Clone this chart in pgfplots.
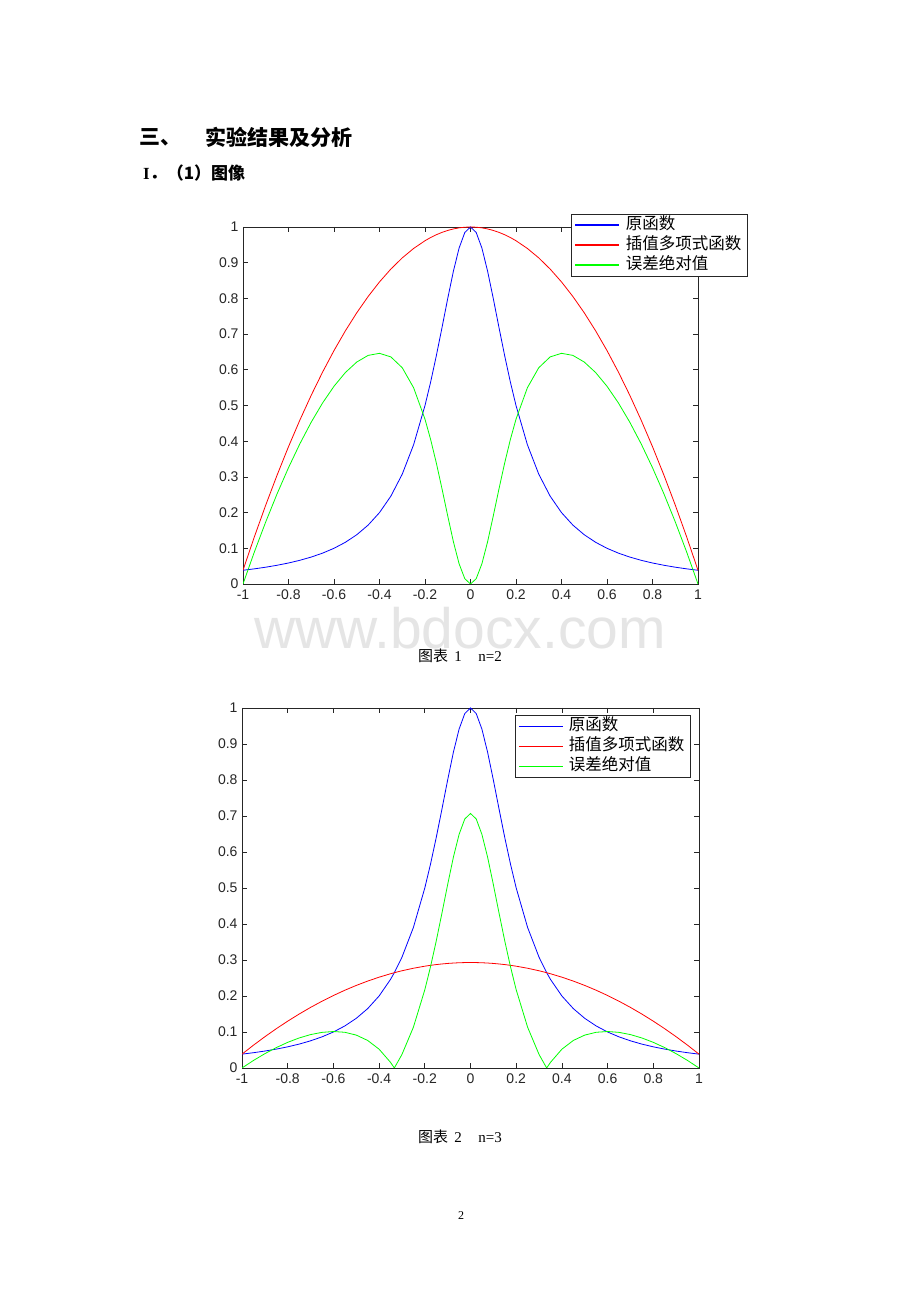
\documentclass[border=0pt]{standalone}
\usepackage{fontspec}
\setmainfont{Liberation Serif}
\newfontfamily\cjk{Noto Sans CJK SC}
\newfontfamily\arial{Liberation Sans}
\usepackage{pgfplots}
\usepackage{pgfplotstable}
\pgfplotsset{compat=1.18}

\pgfplotstableread{
x f p e
-1 0.03846 0.03846 0
-0.95 0.04244 0.13221 0.08977
-0.9 0.04706 0.22115 0.17409
-0.85 0.05246 0.30529 0.25283
-0.8 0.05882 0.38462 0.32580
-0.75 0.06639 0.45913 0.39274
-0.7 0.07547 0.52885 0.45338
-0.65 0.08649 0.59375 0.50726
-0.6 0.10000 0.65385 0.55385
-0.55 0.11679 0.70913 0.59234
-0.5 0.13793 0.75962 0.62169
-0.45 0.16495 0.80529 0.64034
-0.4 0.20000 0.84615 0.64615
-0.35 0.24615 0.88221 0.63606
-0.3 0.30769 0.91346 0.60577
-0.25 0.39024 0.93990 0.54966
-0.2 0.50000 0.96154 0.46154
-0.175 0.56637 0.97055 0.40418
-0.15 0.64000 0.97837 0.33837
-0.125 0.71910 0.98498 0.26588
-0.1 0.80000 0.99038 0.19038
-0.075 0.87671 0.99459 0.11788
-0.05 0.94118 0.99760 0.05642
-0.025 0.98462 0.99940 0.01478
0 1 1 0
0.025 0.98462 0.99940 0.01478
0.05 0.94118 0.99760 0.05642
0.075 0.87671 0.99459 0.11788
0.1 0.80000 0.99038 0.19038
0.125 0.71910 0.98498 0.26588
0.15 0.64000 0.97837 0.33837
0.175 0.56637 0.97055 0.40418
0.2 0.50000 0.96154 0.46154
0.25 0.39024 0.93990 0.54966
0.3 0.30769 0.91346 0.60577
0.35 0.24615 0.88221 0.63606
0.4 0.20000 0.84615 0.64615
0.45 0.16495 0.80529 0.64034
0.5 0.13793 0.75962 0.62169
0.55 0.11679 0.70913 0.59234
0.6 0.10000 0.65385 0.55385
0.65 0.08649 0.59375 0.50726
0.7 0.07547 0.52885 0.45338
0.75 0.06639 0.45913 0.39274
0.8 0.05882 0.38462 0.32580
0.85 0.05246 0.30529 0.25283
0.9 0.04706 0.22115 0.17409
0.95 0.04244 0.13221 0.08977
1 0.03846 0.03846 0
}\tabA

\pgfplotstableread{
x f p e
-1 0.03846 0.03846 0
-0.95 0.04244 0.06328 0.02084
-0.9 0.04706 0.08682 0.03976
-0.85 0.05246 0.10909 0.05663
-0.8 0.05882 0.13009 0.07127
-0.75 0.06639 0.14982 0.08343
-0.7 0.07547 0.16827 0.09280
-0.65 0.08649 0.18545 0.09896
-0.6 0.10000 0.20136 0.10136
-0.55 0.11679 0.21599 0.09920
-0.5 0.13793 0.22935 0.09142
-0.45 0.16495 0.24144 0.07649
-0.4 0.20000 0.25226 0.05226
-0.35 0.24615 0.26181 0.01566
-0.33333 0.26471 0.26471 0
-0.3 0.30769 0.27008 0.03761
-0.25 0.39024 0.27708 0.11316
-0.2 0.50000 0.28280 0.21720
-0.175 0.56637 0.28519 0.28118
-0.15 0.64000 0.28726 0.35274
-0.125 0.71910 0.28901 0.43009
-0.1 0.80000 0.29044 0.50956
-0.075 0.87671 0.29155 0.58516
-0.05 0.94118 0.29235 0.64883
-0.025 0.98462 0.29283 0.69179
0 1 0.29299 0.70701
0.025 0.98462 0.29283 0.69179
0.05 0.94118 0.29235 0.64883
0.075 0.87671 0.29155 0.58516
0.1 0.80000 0.29044 0.50956
0.125 0.71910 0.28901 0.43009
0.15 0.64000 0.28726 0.35274
0.175 0.56637 0.28519 0.28118
0.2 0.50000 0.28280 0.21720
0.25 0.39024 0.27708 0.11316
0.3 0.30769 0.27008 0.03761
0.33333 0.26471 0.26471 0
0.35 0.24615 0.26181 0.01566
0.4 0.20000 0.25226 0.05226
0.45 0.16495 0.24144 0.07649
0.5 0.13793 0.22935 0.09142
0.55 0.11679 0.21599 0.09920
0.6 0.10000 0.20136 0.10136
0.65 0.08649 0.18545 0.09896
0.7 0.07547 0.16827 0.09280
0.75 0.06639 0.14982 0.08343
0.8 0.05882 0.13009 0.07127
0.85 0.05246 0.10909 0.05663
0.9 0.04706 0.08682 0.03976
0.95 0.04244 0.06328 0.02084
1 0.03846 0.03846 0
}\tabB

\pgfplotsset{
  mat/.style={
    scale only axis, anchor=south west,
    xmin=-1, xmax=1, ymin=0, ymax=1,
    axis line style={black!85, line width=0.7pt},
    tick style={black!85, line width=0.7pt},
    tick align=inside, major tick length=5pt,
    xtick pos=both, ytick pos=both,
    xtick={-1,-0.8,-0.6,-0.4,-0.2,0,0.2,0.4,0.6,0.8,1},
    xticklabels={-1,-0.8,-0.6,-0.4,-0.2,0,0.2,0.4,0.6,0.8,1},
    ytick={0,0.1,0.2,0.3,0.4,0.5,0.6,0.7,0.8,0.9,1},
    yticklabels={0,0.1,0.2,0.3,0.4,0.5,0.6,0.7,0.8,0.9,1},
    tick label style={font=\arial\fontsize{14}{14}\selectfont, text=black!85},
    xticklabel style={yshift=-2.5pt},
    yticklabel style={xshift=-1pt},
    legend cell align=left,
    legend style={draw=black!85, line width=0.7pt, fill=white,
      font=\cjk\fontsize{16.5}{16.5}\selectfont, anchor=north west,
      inner xsep=3pt, inner ysep=1pt, row sep=0pt,
      /tikz/every odd column/.append style={column sep=3pt},
      nodes={text height=12pt, text depth=4pt, inner ysep=2pt, inner xsep=2.5pt}},
  },
  every axis plot/.append style={line width=0.8pt},
}

\begin{document}
\begin{tikzpicture}[x=1pt,y=1pt]
\path[fill=white] (0,0) rectangle (920,1302);

% plot 1
\begin{axis}[mat, at={(243pt,718pt)}, width=455pt, height=357pt,
  legend image code/.code={\draw[line width=2pt,#1] (0pt,0pt) -- (44pt,0pt);},
  legend style={at={(0.7209,1.0364)}}]
\addplot[blue] table[x=x,y=f] {\tabA};
\addplot[red] table[x=x,y=p] {\tabA};
\addplot[green] table[x=x,y=e] {\tabA};
\legend{原函数,插值多项式函数,误差绝对值}
\end{axis}

% plot 2
\begin{axis}[mat, at={(242pt,234pt)}, width=457pt, height=360pt,
  legend image code/.code={\draw[line width=1pt,#1] (0pt,0pt) -- (44pt,0pt);},
  legend style={at={(0.5974,0.9806)}}]
\addplot[blue] table[x=x,y=f] {\tabB};
\addplot[red] table[x=x,y=p] {\tabB};
\addplot[green] table[x=x,y=e] {\tabB};
\legend{原函数,插值多项式函数,误差绝对值}
\end{axis}

% heading
\node[anchor=west, inner sep=0pt] at (139,1165) {\cjk\bfseries\fontsize{21}{21}\selectfont 三、};
\node[anchor=west, inner sep=0pt] at (205,1165) {\cjk\bfseries\fontsize{21}{21}\selectfont 实验结果及分析};
\node[anchor=west, inner sep=0pt] at (143,1129) {\fontsize{17}{17}\selectfont\bfseries I{\cjk ．（1）图像}};

% watermark
\node[inner sep=0pt, text=black!10] at (460,674) {\arial\fontsize{57}{57}\selectfont www.bdocx.com};

\node[inner sep=0pt] at (460,646) {\fontsize{15}{15}\selectfont{\cjk 图表}\ \,1\hspace{1.1em}n=2};
\node[inner sep=0pt] at (460,165) {\fontsize{15}{15}\selectfont{\cjk 图表}\ \,2\hspace{1.1em}n=3};
\node[inner sep=0pt] at (461,86) {\fontsize{12}{12}\selectfont 2};
\end{tikzpicture}
\end{document}
